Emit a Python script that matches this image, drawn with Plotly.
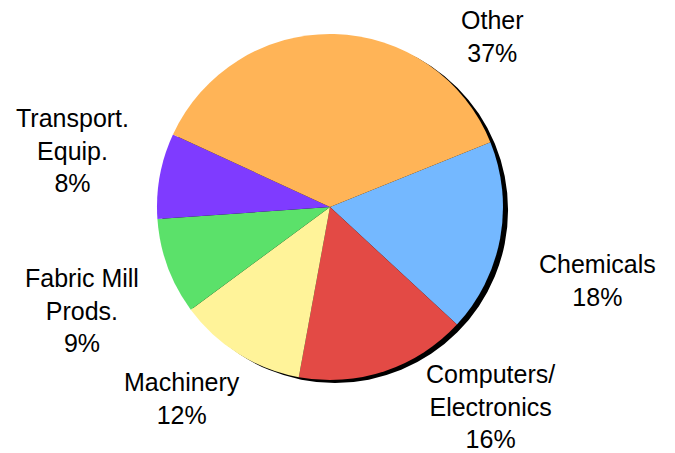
import plotly.graph_objects as go

W, H = 675, 453

# Data
categories = ["Chemicals", "Computers/<br>Electronics", "Machinery", "Fabric Mill<br>Prods.", "Transport.<br>Equip.", "Other"]
shares = [18, 16, 12, 9, 8, 37]
colors = ["#74B8FF", "#E34A45", "#FFF399", "#5BE16A", "#7F3BFF", "#FFB457"]

# Label centres in pixels (layout only)
label_pos = [(597, 280), (490, 406), (182, 398), (82, 310), (72, 151), (492, 37)]

cx, cy, r = 330, 207, 173
sx, sy = 5, 3

def dom(cx, cy, r):
    return dict(x=[(cx - r) / W, (cx + r) / W],
                y=[(H - cy - r) / H, (H - cy + r) / H])

fig = go.Figure()
fig.add_trace(go.Pie(values=[1], labels=["shadow"], marker=dict(colors=["black"]),
                     textinfo="none", hoverinfo="skip", sort=False,
                     domain=dom(cx + sx, cy + sy, r), showlegend=False))
fig.add_trace(go.Pie(values=shares, labels=categories, marker=dict(colors=colors, line=dict(width=0)),
                     textinfo="none", sort=False, direction="clockwise", rotation=68,
                     domain=dom(cx, cy, r), showlegend=False))

for cat, v, (px, py) in zip(categories, shares, label_pos):
    fig.add_annotation(x=px / W, y=1 - py / H, xref="paper", yref="paper",
                       text=f"{cat}<br>{v}%", showarrow=False, align="center",
                       xanchor="center", yanchor="middle",
                       font=dict(family="Liberation Sans, Arial", size=25, color="black"))

fig.update_layout(width=W, height=H, margin=dict(l=0, r=0, t=0, b=0),
                  paper_bgcolor="white", plot_bgcolor="white", showlegend=False)
fig.write_html("out.html")
